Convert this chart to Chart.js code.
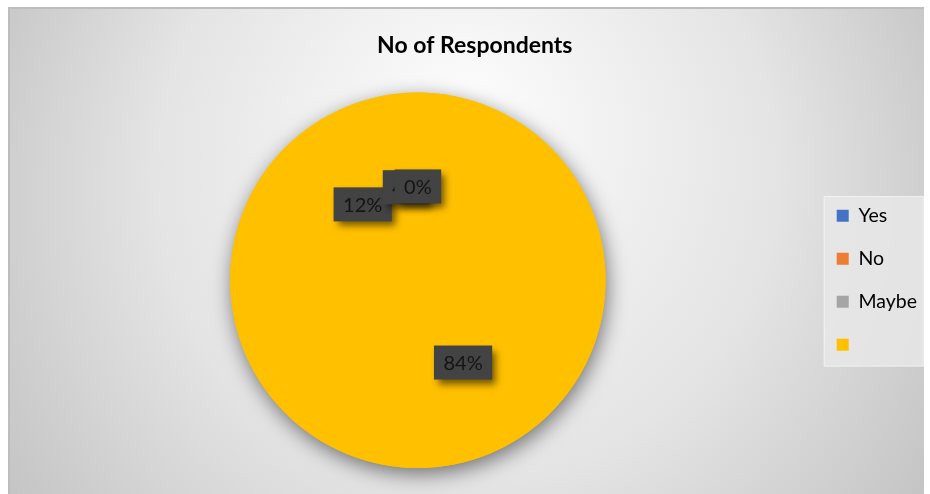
<!DOCTYPE html>
<html lang="en">
<head>
<meta charset="UTF-8">
<title>No of Respondents</title>
<script src="https://cdn.jsdelivr.net/npm/chart.js"></script>
<style>
  body { margin: 0; background: #fff; }
  #wrap { position: absolute; left: 8px; top: 7px; }
</style>
</head>
<body>
<div id="wrap"><canvas id="myChart" width="916" height="487"></canvas></div>
<script>
// data (percent of respondents)
const categories = ['Yes', 'No', 'Maybe', ''];
const values = [84, 12, 4, 0];
const legendColors = ['#4472C4', '#ED7D31', '#A5A5A5', '#FFC000'];
const pieColor = '#FFC000';
const FONT = 'Lato';

const background = {
  id: 'background',
  beforeDraw(chart) {
    const ctx = chart.ctx;
    const w = chart.width, h = chart.height;
    ctx.save();
    const g = ctx.createRadialGradient(w * 0.5, h * 0.2, 20, w * 0.5, h * 0.45, w * 0.6);
    g.addColorStop(0, '#fbfbfb');
    g.addColorStop(0.55, '#e4e4e4');
    g.addColorStop(1, '#c2c2c2');
    ctx.fillStyle = g;
    ctx.fillRect(0, 0, w, h);
    ctx.strokeStyle = '#bdbdbd';
    ctx.lineWidth = 2;
    ctx.beginPath();
    ctx.moveTo(1, h);
    ctx.lineTo(1, 1);
    ctx.lineTo(w, 1);
    ctx.stroke();

    // legend panel
    const lg = chart.legend;
    if (lg && lg.legendHitBoxes && lg.legendHitBoxes.length) {
      const first = lg.legendHitBoxes[0];
      const last = lg.legendHitBoxes[lg.legendHitBoxes.length - 1];
      const x0 = first.left - 13, y0 = first.top - 10;
      const y1 = last.top + last.height + 12;
      ctx.fillStyle = 'rgba(232,232,232,0.8)';
      ctx.fillRect(x0, y0, 100, y1 - y0);
      ctx.strokeStyle = 'rgba(255,255,255,0.5)';
      ctx.lineWidth = 1;
      ctx.strokeRect(x0 + 0.5, y0 + 0.5, 99, y1 - y0 - 1);
    }
    ctx.restore();
  }
};

const pieShadow = {
  id: 'pieShadow',
  beforeDatasetsDraw(chart) {
    const arc = chart.getDatasetMeta(0).data[0];
    if (!arc) return;
    const ctx = chart.ctx;
    ctx.save();
    ctx.shadowColor = 'rgba(0,0,0,0.5)';
    ctx.shadowBlur = 20;
    ctx.shadowOffsetX = 2;
    ctx.shadowOffsetY = 6;
    ctx.fillStyle = pieColor;
    ctx.beginPath();
    ctx.arc(arc.x, arc.y, arc.outerRadius, 0, Math.PI * 2);
    ctx.fill();
    ctx.restore();
  }
};

const dataLabels = {
  id: 'dataLabels',
  afterDatasetsDraw(chart) {
    const ctx = chart.ctx;
    const meta = chart.getDatasetMeta(0);
    const total = values.reduce((a, b) => a + b, 0);
    ctx.save();
    ctx.font = '20px ' + FONT;
    ctx.textAlign = 'center';
    ctx.textBaseline = 'middle';
    meta.data.forEach((arc, i) => {
      const p = arc.tooltipPosition();
      const text = Math.round(values[i] / total * 100) + '%';
      const w = ctx.measureText(text).width + 19;
      const h = 34;
      ctx.shadowColor = 'rgba(0,0,0,0.55)';
      ctx.shadowBlur = 7;
      ctx.shadowOffsetX = 4;
      ctx.shadowOffsetY = 5;
      ctx.fillStyle = '#434343';
      ctx.fillRect(p.x - w / 2, p.y - h / 2, w, h);
      ctx.shadowColor = 'transparent';
      ctx.fillStyle = '#141414';
      ctx.fillText(text, p.x, p.y + 1);
    });
    ctx.restore();
  }
};

const config = {
  type: 'pie',
  data: {
    labels: categories,
    datasets: [{
      data: values,
      backgroundColor: pieColor,
      borderWidth: 0
    }]
  },
  plugins: [background, pieShadow, dataLabels],
  options: {
    responsive: false,
    animation: false,
    layout: {
      padding: { left: 14.5, right: -3, top: 0, bottom: 26 }
    },
    plugins: {
      title: {
        display: true,
        text: 'No of Respondents',
        color: '#000',
        font: { family: FONT, size: 23, weight: 'bold' },
        padding: { top: 25, bottom: 33 }
      },
      legend: {
        position: 'right',
        fullSize: false,
        labels: {
          boxWidth: 12,
          boxHeight: 12,
          padding: 23.5,
          color: '#000',
          font: { family: FONT, size: 19.5 },
          generateLabels: () => categories.map((c, i) => ({
            text: c,
            fillStyle: legendColors[i],
            strokeStyle: legendColors[i],
            lineWidth: 0,
            hidden: false,
            index: i
          }))
        }
      },
      tooltip: { enabled: false }
    }
  }
};

const myChart = new Chart(document.getElementById('myChart'), config);
</script>
</body>
</html>
